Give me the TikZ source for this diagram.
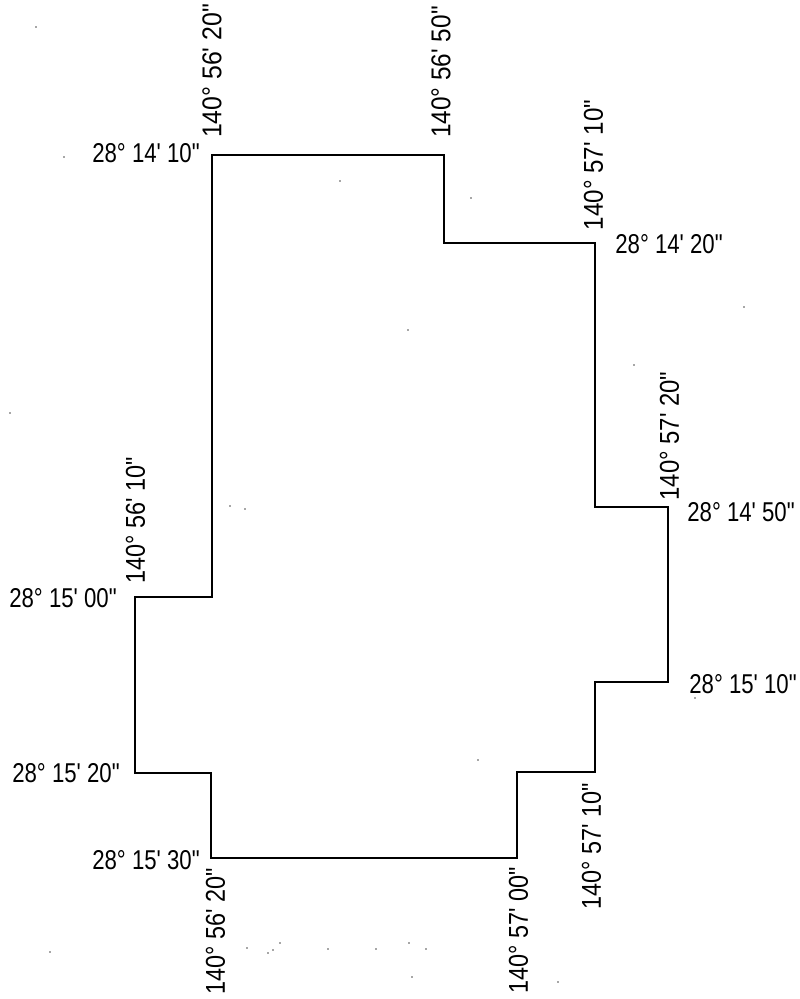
\documentclass[tikz,border=0pt]{standalone}
\usepackage{fontspec}
\newfontfamily\coordfont{Liberation Sans}
\usetikzlibrary{positioning}
\tikzset{
  lat/.style={inner sep=0pt,font=\coordfont\fontsize{15.5}{16}\selectfont,xscale=0.815},
  lon/.style={inner sep=0pt,font=\coordfont\fontsize{15.5}{16}\selectfont,rotate=90,xscale=0.86},
  speck/.style={circle,fill=black!70,inner sep=0.35pt}
}
\begin{document}
\begin{tikzpicture}[x=0.02cm,y=-0.02cm]
	\useasboundingbox (0,0) rectangle (799,999);
	%CORNERS
	\coordinate (c1) at (212,155);
	\coordinate (c2) at (444,155);
	\coordinate (c3) at (444,243);
	\coordinate (c4) at (595,243);
	\coordinate (c5) at (595,507);
	\coordinate (c6) at (668,507);
	\coordinate (c7) at (668,682);
	\coordinate (c8) at (595,682);
	\coordinate (c9) at (595,772);
	\coordinate (c10) at (517,772);
	\coordinate (c11) at (517,858);
	\coordinate (c12) at (211,858);
	\coordinate (c13) at (211,773);
	\coordinate (c14) at (135,773);
	\coordinate (c15) at (135,597);
	\coordinate (c16) at (212,597);
	%OUTLINE
	\draw[line width=0.45mm] (c1) -- (c2) -- (c3) -- (c4) -- (c5) -- (c6) -- (c7) -- (c8)
		-- (c9) -- (c10) -- (c11) -- (c12) -- (c13) -- (c14) -- (c15) -- (c16) -- cycle;
	%LATITUDES
	\node[lat] (la1) at (146,153) {28° 14' 10"};
	\node[lat] (la2) at (669,244) {28° 14' 20"};
	\node[lat] (la3) at (741,512) {28° 14' 50"};
	\node[lat] (la4) at (743,684) {28° 15' 10"};
	\node[lat] (la5) at (63,598) {28° 15' 00"};
	\node[lat] (la6) at (66,773.5) {28° 15' 20"};
	\node[lat] (la7) at (146,860) {28° 15' 30"};
	%LONGITUDES
	\node[lon,xscale=1.06] (lo1) at (212,71) {140° 56' 20"};
	\node[lon,xscale=1.04] (lo2) at (441,72) {140° 56' 50"};
	\node[lon,xscale=1.03] (lo3) at (593.5,165) {140° 57' 10"};
	\node[lon,xscale=1.02] (lo4) at (669.5,436) {140° 57' 20"};
	\node[lon] (lo5) at (135.5,520) {140° 56' 10"};
	\node[lon] (lo6) at (215.5,931) {140° 56' 20"};
	\node[lon] (lo7) at (518.5,930) {140° 57' 00"};
	\node[lon] (lo8) at (591.5,846.5) {140° 57' 10"};
	%SPECKS
	\foreach \x/\y in {340/181,471/198,408/330,230/506,245/509,744/307,634/365,10/413,695/698,478/760,247/948,280/943,273/950,268/953,328/949,376/949,409/943,426/949,412/977,558/982,50/952,64/157,36/27} {
	  \node[speck] (s\x) at (\x,\y) {};
	}
\end{tikzpicture}
\end{document}
